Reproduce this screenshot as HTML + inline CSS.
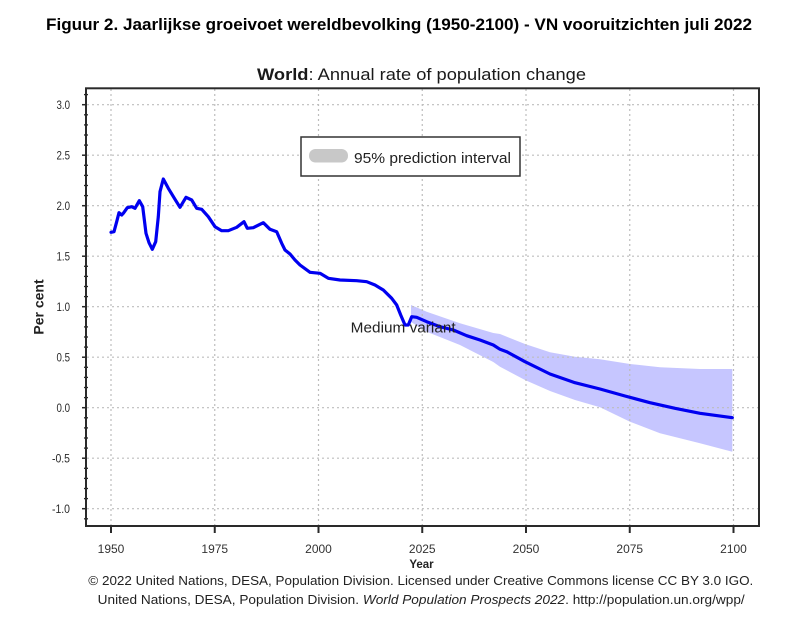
<!DOCTYPE html>
<html><head><meta charset="utf-8"><style>
html,body{margin:0;padding:0;background:#fff;}
svg{display:block;}
text{font-family:"Liberation Sans",Arial,sans-serif;}
</style></head><body>
<svg width="810" height="623" viewBox="0 0 810 623" xmlns="http://www.w3.org/2000/svg">
<rect width="810" height="623" fill="#fff"/>
<text x="46" y="30" font-size="17" font-weight="bold" fill="#000" textLength="706" lengthAdjust="spacingAndGlyphs">Figuur 2. Jaarlijkse groeivoet wereldbevolking (1950-2100) - VN vooruitzichten juli 2022</text>
<text x="257" y="80" font-size="17" fill="#1a1a1a" textLength="329" lengthAdjust="spacingAndGlyphs"><tspan font-weight="bold">World</tspan>: Annual rate of population change</text>

<!-- band -->
<polygon fill="#c6c6ff" points="411,305 426.7,311.7 460,323.3 493.3,333 500,334 525,344 550,352.3 575,356.7 600,359.3 630,364 660,367.3 700,369 732.3,369 732.3,451.7 700,443.3 660,433.3 630,421.7 600,407.3 575,400 550,391 525,380 500,366.7 493.3,362 460,345 426.7,331.7 411,322"/>

<!-- grid -->
<g stroke="#bdbdbd" stroke-width="1.2" stroke-dasharray="2,3" fill="none">
<line x1="87" y1="104.7" x2="758" y2="104.7"/>
<line x1="87" y1="155.2" x2="758" y2="155.2"/>
<line x1="87" y1="205.7" x2="758" y2="205.7"/>
<line x1="87" y1="256.2" x2="758" y2="256.2"/>
<line x1="87" y1="306.7" x2="758" y2="306.7"/>
<line x1="87" y1="357.2" x2="758" y2="357.2"/>
<line x1="87" y1="407.7" x2="758" y2="407.7"/>
<line x1="87" y1="458.2" x2="758" y2="458.2"/>
<line x1="87" y1="508.7" x2="758" y2="508.7"/>
<line x1="111" y1="89" x2="111" y2="525"/>
<line x1="214.75" y1="89" x2="214.75" y2="525"/>
<line x1="318.5" y1="89" x2="318.5" y2="525"/>
<line x1="422.25" y1="89" x2="422.25" y2="525"/>
<line x1="526" y1="89" x2="526" y2="525"/>
<line x1="629.75" y1="89" x2="629.75" y2="525"/>
<line x1="733.5" y1="89" x2="733.5" y2="525"/>
</g>

<!-- frame -->
<rect x="86" y="88.3" width="673" height="437.7" fill="none" stroke="#2a2a2a" stroke-width="2"/>

<!-- y ticks -->
<g stroke="#2a2a2a" stroke-width="1.5">
<line x1="82" y1="104.7" x2="87" y2="104.7"/><line x1="82" y1="155.2" x2="87" y2="155.2"/><line x1="82" y1="205.7" x2="87" y2="205.7"/><line x1="82" y1="256.2" x2="87" y2="256.2"/><line x1="82" y1="306.7" x2="87" y2="306.7"/><line x1="82" y1="357.2" x2="87" y2="357.2"/><line x1="82" y1="407.7" x2="87" y2="407.7"/><line x1="82" y1="458.2" x2="87" y2="458.2"/><line x1="82" y1="508.7" x2="87" y2="508.7"/>
</g>
<g stroke="#2a2a2a" stroke-width="1.3">
<line x1="84" y1="94.6" x2="88" y2="94.6"/><line x1="84" y1="114.8" x2="88" y2="114.8"/><line x1="84" y1="124.9" x2="88" y2="124.9"/><line x1="84" y1="135" x2="88" y2="135"/><line x1="84" y1="145.1" x2="88" y2="145.1"/>
<line x1="84" y1="165.3" x2="88" y2="165.3"/><line x1="84" y1="175.4" x2="88" y2="175.4"/><line x1="84" y1="185.5" x2="88" y2="185.5"/><line x1="84" y1="195.6" x2="88" y2="195.6"/>
<line x1="84" y1="215.8" x2="88" y2="215.8"/><line x1="84" y1="225.9" x2="88" y2="225.9"/><line x1="84" y1="236" x2="88" y2="236"/><line x1="84" y1="246.1" x2="88" y2="246.1"/>
<line x1="84" y1="266.3" x2="88" y2="266.3"/><line x1="84" y1="276.4" x2="88" y2="276.4"/><line x1="84" y1="286.5" x2="88" y2="286.5"/><line x1="84" y1="296.6" x2="88" y2="296.6"/>
<line x1="84" y1="316.8" x2="88" y2="316.8"/><line x1="84" y1="326.9" x2="88" y2="326.9"/><line x1="84" y1="337" x2="88" y2="337"/><line x1="84" y1="347.1" x2="88" y2="347.1"/>
<line x1="84" y1="367.3" x2="88" y2="367.3"/><line x1="84" y1="377.4" x2="88" y2="377.4"/><line x1="84" y1="387.5" x2="88" y2="387.5"/><line x1="84" y1="397.6" x2="88" y2="397.6"/>
<line x1="84" y1="417.8" x2="88" y2="417.8"/><line x1="84" y1="427.9" x2="88" y2="427.9"/><line x1="84" y1="438" x2="88" y2="438"/><line x1="84" y1="448.1" x2="88" y2="448.1"/>
<line x1="84" y1="468.3" x2="88" y2="468.3"/><line x1="84" y1="478.4" x2="88" y2="478.4"/><line x1="84" y1="488.5" x2="88" y2="488.5"/><line x1="84" y1="498.6" x2="88" y2="498.6"/>
<line x1="84" y1="518.8" x2="88" y2="518.8"/>
</g>

<!-- x ticks -->
<g stroke="#2a2a2a" stroke-width="2">
<line x1="111" y1="526" x2="111" y2="533"/><line x1="214.75" y1="526" x2="214.75" y2="533"/><line x1="318.5" y1="526" x2="318.5" y2="533"/><line x1="422.25" y1="526" x2="422.25" y2="533"/><line x1="526" y1="526" x2="526" y2="533"/><line x1="629.75" y1="526" x2="629.75" y2="533"/><line x1="733.5" y1="526" x2="733.5" y2="533"/>
</g>

<!-- y labels -->
<g font-size="12" fill="#2a2a2a">
<text x="56.5" y="109" textLength="13.5" lengthAdjust="spacingAndGlyphs">3.0</text>
<text x="56.5" y="159.5" textLength="13.5" lengthAdjust="spacingAndGlyphs">2.5</text>
<text x="56.5" y="210" textLength="13.5" lengthAdjust="spacingAndGlyphs">2.0</text>
<text x="56.5" y="260.5" textLength="13.5" lengthAdjust="spacingAndGlyphs">1.5</text>
<text x="56.5" y="311" textLength="13.5" lengthAdjust="spacingAndGlyphs">1.0</text>
<text x="56.5" y="361.5" textLength="13.5" lengthAdjust="spacingAndGlyphs">0.5</text>
<text x="56.5" y="412" textLength="13.5" lengthAdjust="spacingAndGlyphs">0.0</text>
<text x="52" y="462.5" textLength="18" lengthAdjust="spacingAndGlyphs">-0.5</text>
<text x="52" y="513" textLength="18" lengthAdjust="spacingAndGlyphs">-1.0</text>
</g>
<text transform="translate(43.5,307) rotate(-90)" font-size="14" font-weight="bold" fill="#222" text-anchor="middle">Per cent</text>

<!-- x labels -->
<g font-size="12" fill="#333" text-anchor="middle">
<text x="111" y="553">1950</text>
<text x="214.75" y="553">1975</text>
<text x="318.5" y="553">2000</text>
<text x="422.25" y="553">2025</text>
<text x="526" y="553">2050</text>
<text x="629.75" y="553">2075</text>
<text x="733.5" y="553">2100</text>
</g>
<text x="421.5" y="568" font-size="11.5" font-weight="bold" fill="#222" text-anchor="middle">Year</text>

<!-- legend -->
<rect x="301" y="137" width="219" height="39" fill="#fff" stroke="#333" stroke-width="1.5"/>
<rect x="309" y="149" width="39" height="13.5" rx="6.5" fill="#c8c8c8"/>
<text x="354" y="163" font-size="15" fill="#222" textLength="157" lengthAdjust="spacingAndGlyphs">95% prediction interval</text>

<!-- line -->
<polyline fill="none" stroke="#0000f0" stroke-width="3.2" stroke-linejoin="round" stroke-linecap="round" points="111,232.3 114,231.7 116.7,221.7 119,212.7 121.7,215 123.3,213.3 127.3,207.7 131.7,206.7 135,208.3 139.3,200.7 142.7,206.7 146,233.3 149,242.7 152.3,249.3 155.7,241.7 158.3,216.7 160,191.7 163.3,179 168.3,188.3 175,199.3 180,207.3 186,197.3 191.7,200 196.7,208.3 201.7,209.3 208.3,216.7 215,226.7 221.7,230.7 228.3,230.7 236.7,227.3 244,221.7 247.3,228.3 253.3,227.7 263.3,222.7 270,229.3 276.7,231.7 281.7,243.3 285,250 290,254 295,260 300,265 310,272.3 320,273.3 328.3,278.3 340,280 356.7,280.7 366.7,281.7 375,285 383.3,290 391.7,298.3 396.7,305 400.7,315 405,325 408.3,325 411.7,316.7 416.7,317.3 426.7,321.7 440,326.7 453.3,330 466.7,335.7 480,340 493.3,345 500,349.3 506.7,351.7 525,361.7 550,374 575,382.7 600,389 625,396 650,402.7 675,408.3 700,413.3 732.3,417.7"/>

<text x="350.7" y="332.7" font-size="15" fill="#222" textLength="105" lengthAdjust="spacingAndGlyphs">Medium variant</text>

<!-- footer -->
<text x="88.3" y="585" font-size="12.5" fill="#222" textLength="665" lengthAdjust="spacingAndGlyphs">© 2022 United Nations, DESA, Population Division. Licensed under Creative Commons license CC BY 3.0 IGO.</text>
<text x="97.7" y="604" font-size="12.5" fill="#222" textLength="647" lengthAdjust="spacingAndGlyphs">United Nations, DESA, Population Division. <tspan font-style="italic">World Population Prospects 2022</tspan>. http://population.un.org/wpp/</text>
</svg>
</body></html>
